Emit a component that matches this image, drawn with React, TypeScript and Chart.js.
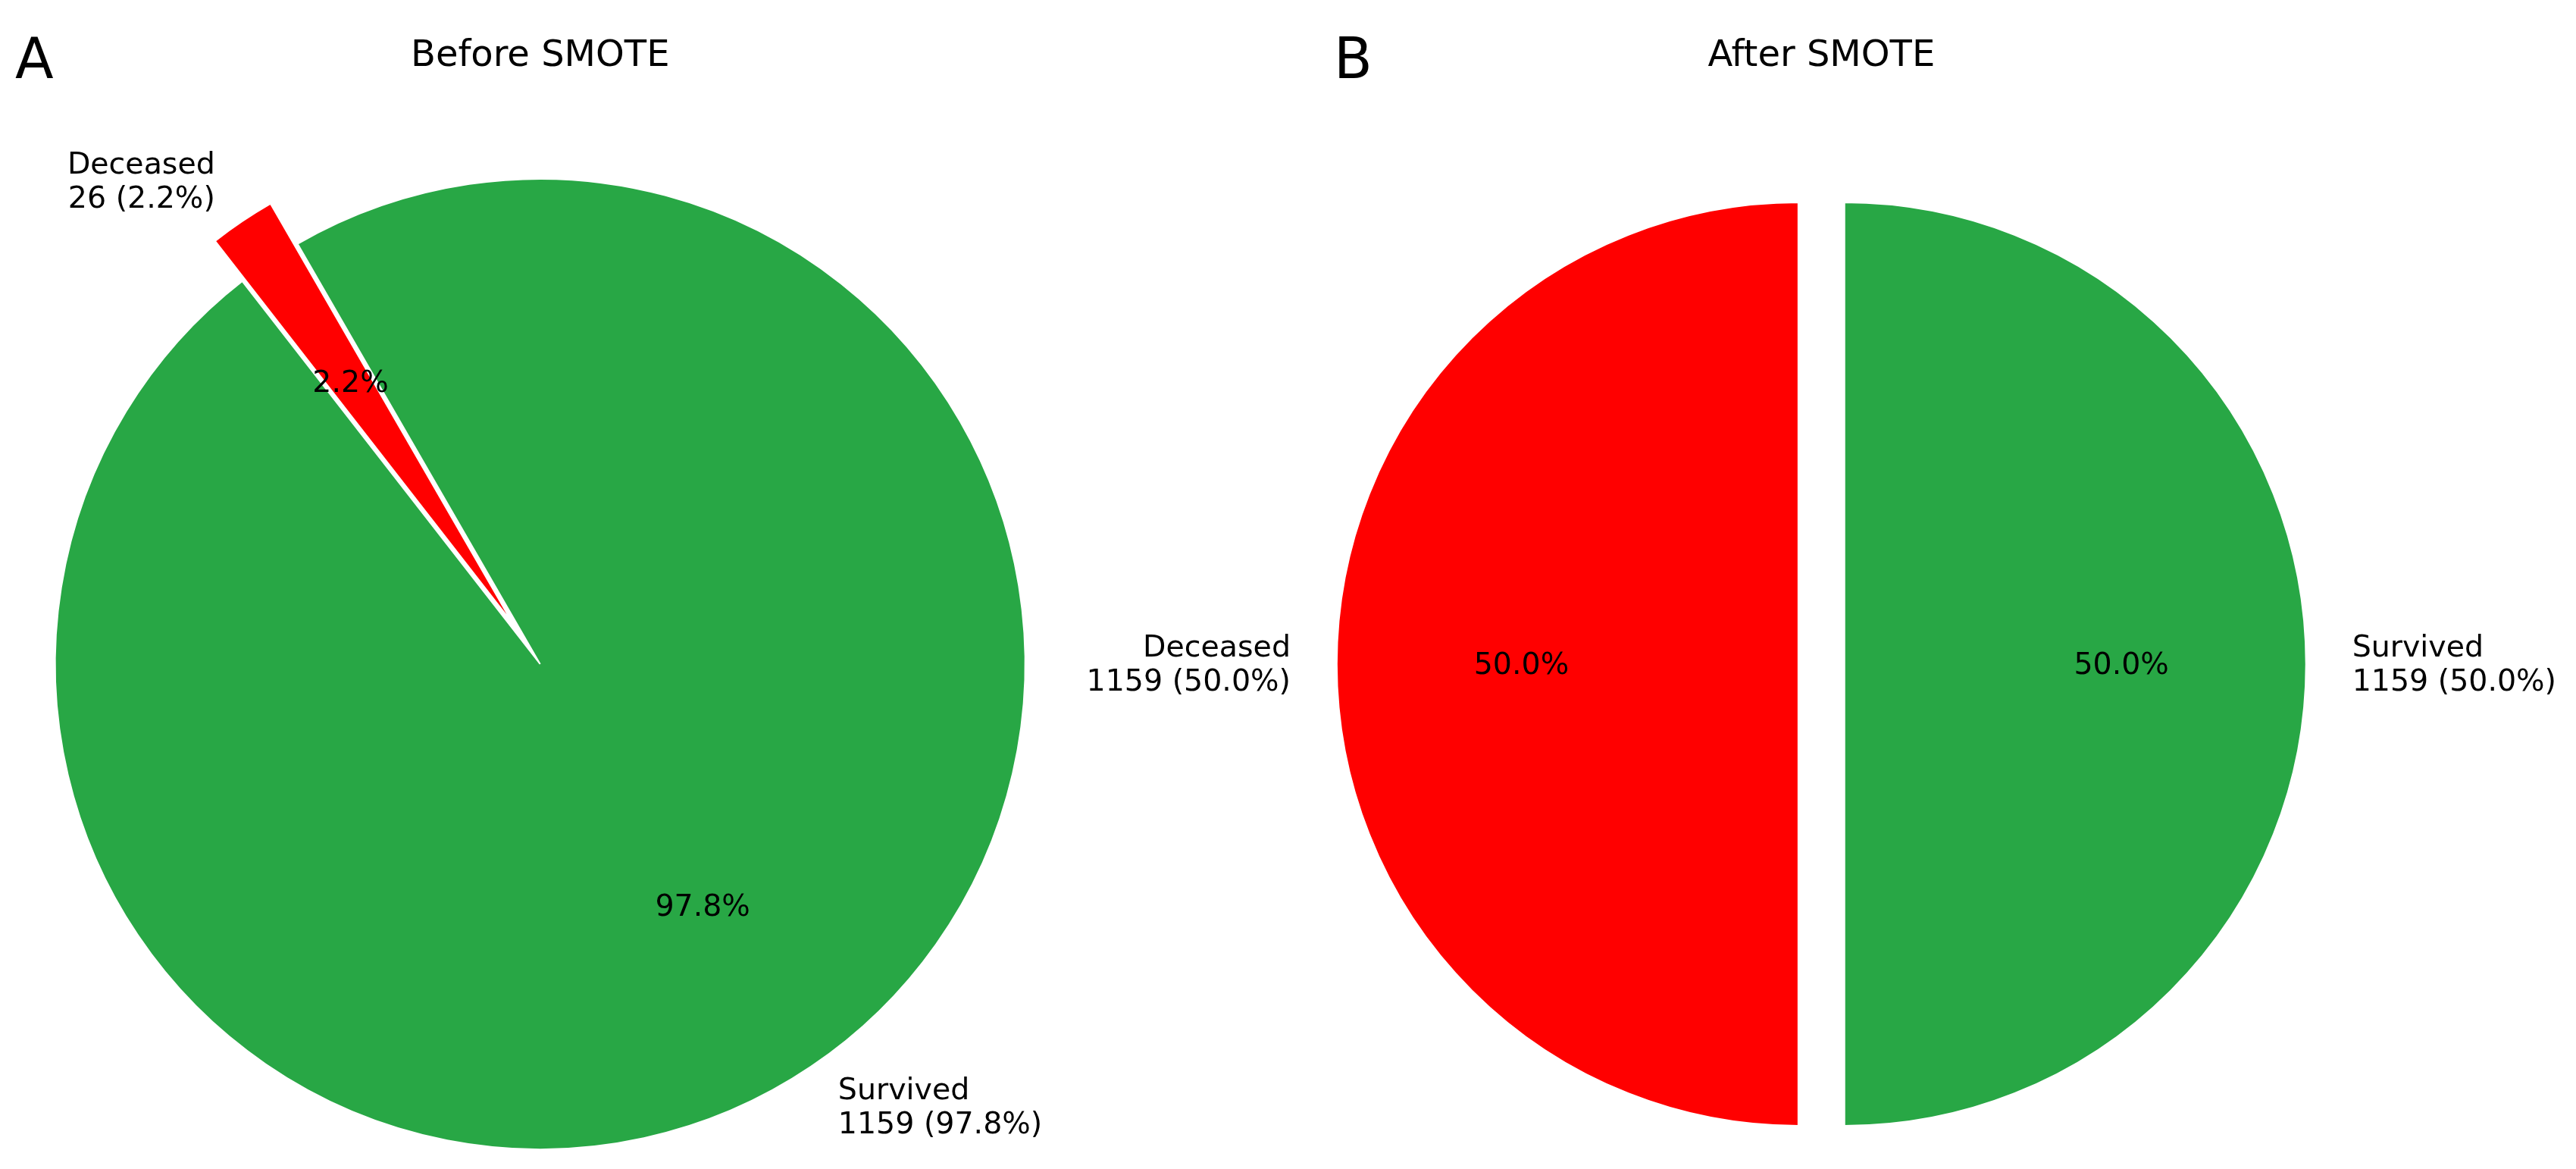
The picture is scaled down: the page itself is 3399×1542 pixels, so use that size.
import React, { useEffect, useRef } from 'react';
import { Chart, registerables } from 'chart.js';

Chart.register(...registerables);

// ---- data ----
const categories = ['Survived', 'Deceased'];
const beforeCounts = [1159, 26];
const afterCounts = [1159, 1159];
const beforeExplode = [0, 0.1];
const afterExplode = [0.05, 0.05];
const panelTitles = ['Before SMOTE', 'After SMOTE'];
const panelLetters = ['A', 'B'];

// ---- styles ----
const RED = '#ff0000';
const GREEN = '#28a745';
const FONT = '"DejaVu Sans", "Liberation Sans", sans-serif';
const LABEL_PX = 39.5;
const TITLE_PX = 48;
const LETTER_PX = 74;
const W = 3399;
const H = 1542;

function makeTextPlugin(explode: number[], title: string, letter: string, letterX: number) {
  return {
    id: 'pieTexts',
    afterDatasetUpdate(chart: any, args: any) {
      const meta = args.meta;
      meta.data.forEach((el: any, i: number) => {
        const mid = (el.startAngle + el.endAngle) / 2;
        const t = (explode[i] || 0) * el.outerRadius;
        el.x += Math.cos(mid) * t;
        el.y += Math.sin(mid) * t;
      });
    },
    afterDatasetsDraw(chart: any) {
      const ctx = chart.ctx as CanvasRenderingContext2D;
      const meta = chart.getDatasetMeta(0);
      const vals = chart.data.datasets[0].data as number[];
      const labels = chart.data.labels as string[];
      const total = vals.reduce((a, b) => a + b, 0);
      ctx.save();
      ctx.fillStyle = '#000';
      ctx.font = `${LABEL_PX}px ${FONT}`;
      ctx.textBaseline = 'alphabetic';
      meta.data.forEach((el: any, i: number) => {
        const mid = (el.startAngle + el.endAngle) / 2;
        const r = el.outerRadius;
        const c = Math.cos(mid);
        const s = Math.sin(mid);
        const pct = ((vals[i] / total) * 100).toFixed(1) + '%';
        ctx.textAlign = 'center';
        ctx.fillText(pct, el.x + c * 0.6 * r, el.y + s * 0.6 * r + 13);
        const lx = el.x + c * 1.1 * r;
        const ly = el.y + s * 1.1 * r;
        ctx.textAlign = c > 0 ? 'left' : 'right';
        ctx.fillText(labels[i], lx, ly - 10);
        ctx.fillText(`${vals[i]} (${pct})`, lx, ly + 35);
      });
      const cx = (chart.chartArea.left + chart.chartArea.right) / 2;
      ctx.textAlign = 'center';
      ctx.font = `${TITLE_PX}px ${FONT}`;
      ctx.fillText(title, cx, 86.6);
      ctx.textAlign = 'left';
      ctx.font = `${LETTER_PX}px ${FONT}`;
      ctx.fillText(letter, letterX, 103);
      ctx.restore();
    },
  };
}

function makePie(
  canvas: HTMLCanvasElement,
  counts: number[],
  explode: number[],
  rotation: number,
  radius: number,
  padLeft: number,
  padRight: number,
  title: string,
  letter: string,
  letterX: number
) {
  return new Chart(canvas, {
    type: 'pie',
    data: {
      labels: categories,
      datasets: [
        {
          data: counts,
          backgroundColor: [GREEN, RED],
          borderColor: '#ffffff',
          borderWidth: 2,
          hoverOffset: 0,
        },
      ],
    },
    options: {
      animation: false,
      responsive: false,
      devicePixelRatio: 1,
      rotation,
      radius,
      layout: { padding: { left: padLeft, right: padRight, top: 210, bottom: 0 } },
      plugins: {
        legend: { display: false },
        tooltip: { enabled: false },
        title: { display: false },
      },
      events: [],
    },
    plugins: [makeTextPlugin(explode, title, letter, letterX)],
  } as any);
}

export default function App() {
  const leftRef = useRef<HTMLCanvasElement>(null);
  const rightRef = useRef<HTMLCanvasElement>(null);

  useEffect(() => {
    const a = makePie(leftRef.current!, beforeCounts, beforeExplode, -30, 640, 0, W - 2 * 712.7, panelTitles[0], panelLetters[0], 20);
    const b = makePie(rightRef.current!, afterCounts, afterExplode, 0, 609, 2 * 2403.3 - W, 0, panelTitles[1], panelLetters[1], 1760);
    return () => {
      a.destroy();
      b.destroy();
    };
  }, []);

  const canvasStyle: React.CSSProperties = { position: 'absolute', left: 0, top: 0, width: W, height: H };

  return (
    <div style={{ position: 'absolute', left: 0, top: 0, width: W, height: H, background: '#fff', overflow: 'hidden' }}>
      <canvas ref={leftRef} width={W} height={H} style={canvasStyle} />
      <canvas ref={rightRef} width={W} height={H} style={canvasStyle} />
    </div>
  );
}
